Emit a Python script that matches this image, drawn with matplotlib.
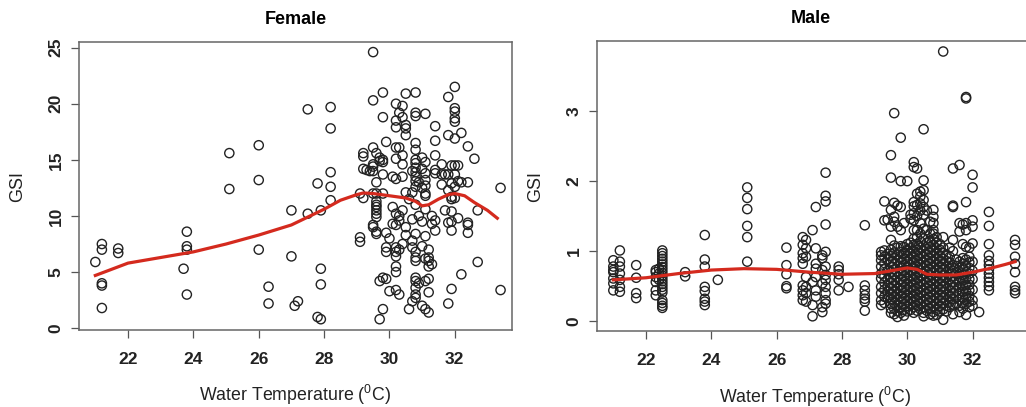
import matplotlib
matplotlib.use("Agg")
from matplotlib import pyplot as plt

# female: sampled water temperatures and the GSI values seen at each one
female_temp = [21.0, 21.2, 21.7, 23.7, 23.8, 25.1, 26.0, 26.3, 27.0, 27.1,
               27.2, 27.5, 27.8, 27.9, 28.2, 29.1, 29.2, 29.3, 29.4, 29.5,
               29.6, 29.7, 29.8, 29.9, 30.0, 30.1, 30.2, 30.3, 30.4, 30.5,
               30.6, 30.7, 30.8, 30.9, 31.0, 31.1, 31.2, 31.3, 31.4, 31.6,
               31.7, 31.8, 31.9, 32.0, 32.1, 32.2, 32.4, 32.6, 32.7, 33.4]
female_gsi = [
    [5.9], [7.5, 7.0, 4.0, 3.8, 1.8], [7.1, 6.7], [5.3], [8.6, 7.3, 7.0, 3.0],
    [15.6, 12.4], [16.3, 13.2, 7.0], [3.7, 2.2], [10.5, 6.4], [2.0],
    [2.4], [19.5, 10.2], [12.9, 1.0], [5.3, 3.9, 0.8, 10.5],
    [19.7, 17.8, 13.9, 12.6, 11.4],
    [12.0, 8.1, 7.7], [15.6, 15.3, 14.2, 11.6], [14.1], [14.0],
    [24.6, 20.3, 16.1, 14.6, 14.4, 14.0, 12.0, 9.2, 9.0],
    [15.6, 13.0, 12.0, 11.3, 11.0, 10.8, 10.5, 10.2, 9.9, 8.6, 8.4],
    [15.2, 14.9, 4.2, 0.8],
    [21.0, 18.8, 15.0, 14.8, 13.7, 12.0, 4.5, 1.7],
    [16.6, 8.5, 7.2, 6.8, 4.4],
    [8.0, 3.3],
    [13.5, 10.8, 9.3],
    [20.0, 18.5, 17.9, 16.1, 15.1, 13.3, 10.2, 9.2, 7.2, 6.8, 6.4, 5.5, 5.0, 3.4],
    [19.2, 16.1, 10.0, 9.6, 7.0, 3.0],
    [19.8, 18.8, 15.4, 14.6, 13.5, 10.5, 7.5],
    [20.9, 18.1, 17.8, 17.2, 12.1, 9.0, 8.3],
    [11.5, 1.7],
    [14.0, 12.1, 9.7, 7.8, 7.2, 2.4],
    [21.0, 19.2, 18.9, 16.5, 15.9, 15.0, 14.7, 14.3, 13.9, 13.5, 13.1, 12.6,
     11.0, 8.4, 6.8, 6.3, 6.0, 4.5, 4.2, 3.6, 3.0, 2.7],
    [13.0, 10.0, 4.0],
    [15.2, 14.2, 12.5, 9.5, 7.3, 2.0],
    [19.1, 14.8, 13.8, 13.2, 12.7, 12.0, 11.8, 10.6, 8.2, 6.2, 4.2, 1.7],
    [7.0, 6.3, 6.0, 5.5, 4.4, 3.2, 1.4],
    [10.0, 9.3, 5.7],
    [18.0, 16.7, 15.4, 14.1, 13.8, 9.6, 8.7],
    [14.6, 13.7, 12.8],
    [13.7, 10.5],
    [20.6, 17.2, 13.7, 12.3, 9.4, 2.2],
    [14.5, 12.9, 11.7, 11.5, 10.4, 9.5, 8.7, 3.5],
    [21.5, 19.6, 19.3, 18.7, 18.4, 16.9, 14.5, 13.7, 12.6, 11.6],
    [14.5, 13.1, 9.8],
    [17.4, 13.0, 4.8],
    [16.2, 13.0, 9.4, 9.2, 8.5],
    [15.1],
    [10.5, 5.9],
    [12.5, 3.4],
]

# male
male_temp = [21.0, 21.2, 21.7, 22.3, 22.4, 22.5, 23.2, 23.8, 24.2, 25.1,
             26.3, 26.8, 26.9, 27.1, 27.2, 27.4, 27.5, 27.9, 28.2, 28.7,
             29.2, 29.3, 29.4, 29.5, 29.6, 29.7, 29.8, 29.9, 30.0, 30.1,
             30.2, 30.3, 30.4, 30.5, 30.6, 30.7, 30.8, 30.9, 31.0, 31.1,
             31.2, 31.3, 31.4, 31.5, 31.6, 31.7, 31.8, 31.9, 32.0, 32.2,
             32.5, 33.3]
male_gsi = [
    [0.87, 0.78, 0.73, 0.70, 0.61, 0.54, 0.44],
    [1.01, 0.85, 0.78, 0.68, 0.59, 0.49, 0.42],
    [0.80, 0.62, 0.40, 0.33],
    [0.73, 0.70, 0.63, 0.56, 0.44, 0.37],
    [0.75, 0.68, 0.59],
    [1.01, 0.97, 0.93, 0.89, 0.85, 0.81, 0.77, 0.73, 0.69, 0.65, 0.61, 0.57,
     0.53, 0.49, 0.45, 0.41, 0.30, 0.26, 0.22, 0.19],
    [0.70, 0.64],
    [1.23, 0.88, 0.78, 0.49, 0.43, 0.32, 0.28, 0.23],
    [0.59],
    [1.91, 1.76, 1.60, 1.36, 1.20, 0.85],
    [1.05, 0.80, 0.67, 0.50, 0.47],
    [1.20, 1.09, 0.97, 0.90, 0.82, 0.51, 0.44, 0.37, 0.30],
    [1.16, 1.04, 0.92, 0.63, 0.49, 0.40, 0.28],
    [1.30, 0.56, 0.23, 0.07],
    [1.63, 1.04, 0.82, 0.75, 0.63, 0.44, 0.35],
    [0.94, 0.90, 0.73, 0.54, 0.20, 0.13],
    [2.12, 1.79, 1.71, 1.38, 0.99, 0.78, 0.66, 0.59, 0.49, 0.40, 0.30, 0.25],
    [0.78, 0.73, 0.67, 0.59, 0.44],
    [0.49],
    [1.37, 0.51, 0.44, 0.37, 0.32, 0.28, 0.15],
    [0.99, 0.94, 0.87, 0.78, 0.68, 0.61, 0.49, 0.40, 0.30, 0.23],
    [1.71, 1.44, 1.01, 0.92, 0.83, 0.74, 0.64, 0.55, 0.45, 0.35, 0.26],
    [1.45, 0.96, 0.88, 0.72, 0.60, 0.50, 0.42, 0.33],
    [2.37, 2.05, 1.59, 1.35, 1.16, 1.02, 0.93, 0.85, 0.77, 0.70, 0.62, 0.55,
     0.47, 0.40, 0.32, 0.25, 0.18, 0.12],
    [2.97, 1.69, 1.49, 1.42, 1.08, 0.98, 0.90, 0.82, 0.74, 0.66, 0.58, 0.50,
     0.42, 0.34, 0.26, 0.18, 0.10],
    [1.65, 1.35, 1.05, 0.95, 0.87, 0.78, 0.70, 0.63, 0.55, 0.46, 0.38, 0.30,
     0.22, 0.14, 0.06],
    [2.62, 2.00, 1.63, 1.30, 1.07, 0.99, 0.91, 0.84, 0.76, 0.68, 0.60, 0.52,
     0.44, 0.36, 0.28, 0.20, 0.12],
    [1.40, 1.06, 0.97, 0.89, 0.80, 0.72, 0.64, 0.56, 0.48, 0.40, 0.32, 0.24,
     0.16, 0.08],
    [2.00, 1.10, 1.02, 0.94, 0.86, 0.78, 0.70, 0.62, 0.54, 0.46, 0.38, 0.30,
     0.22, 0.14],
    [1.52, 1.46, 1.12, 1.04, 0.96, 0.88, 0.80, 0.72, 0.64, 0.56, 0.48, 0.40,
     0.32, 0.24, 0.16],
    [2.27, 2.20, 1.70, 1.64, 1.54, 1.44, 1.30, 1.18, 1.09, 1.00, 0.92, 0.84,
     0.76, 0.68, 0.60, 0.52, 0.44, 0.36, 0.28, 0.20, 0.12],
    [2.18, 1.82, 1.66, 1.50, 1.30, 1.20, 1.10, 1.02, 0.94, 0.86, 0.78, 0.70,
     0.62, 0.54, 0.46, 0.38, 0.30, 0.22, 0.15],
    [1.85, 1.78, 1.68, 1.58, 1.40, 1.25, 1.14, 1.05, 0.97, 0.89, 0.81, 0.73,
     0.65, 0.57, 0.49, 0.41, 0.33, 0.25, 0.17],
    [2.74, 2.01, 1.87, 1.73, 1.63, 1.52, 1.32, 1.18, 1.08, 1.00, 0.92, 0.84,
     0.76, 0.68, 0.60, 0.52, 0.44, 0.36, 0.28, 0.20, 0.12, 0.07],
    [1.58, 1.30, 1.12, 1.03, 0.95, 0.87, 0.79, 0.71, 0.63, 0.55, 0.47, 0.39,
     0.31, 0.23, 0.15],
    [1.42, 1.25, 1.15, 1.06, 0.98, 0.90, 0.82, 0.74, 0.66, 0.58, 0.50, 0.42,
     0.34, 0.26, 0.18, 0.10],
    [1.59, 1.49, 1.40, 1.30, 1.25, 1.17, 1.09, 1.01, 0.93, 0.85, 0.77, 0.69,
     0.61, 0.53, 0.45, 0.37, 0.29, 0.21, 0.13, 0.08],
    [1.20, 1.12, 1.04, 0.96, 0.88, 0.80, 0.72, 0.64, 0.56, 0.48, 0.40, 0.32,
     0.24, 0.16, 0.09],
    [1.10, 1.02, 0.94, 0.86, 0.78, 0.70, 0.62, 0.54, 0.46, 0.38, 0.30, 0.22,
     0.14],
    [3.85, 1.20, 1.05, 0.97, 0.89, 0.81, 0.73, 0.65, 0.57, 0.49, 0.41, 0.33,
     0.25, 0.17, 0.02],
    [0.95, 0.86, 0.78, 0.70, 0.62, 0.54, 0.46, 0.38, 0.30, 0.22, 0.14],
    [1.05, 0.92, 0.84, 0.76, 0.68, 0.60, 0.52, 0.44, 0.36, 0.28, 0.20],
    [2.18, 1.65, 1.63, 1.16, 1.00, 0.80, 0.72, 0.64, 0.56, 0.48, 0.40, 0.32,
     0.24, 0.10],
    [0.88, 0.79, 0.70, 0.61, 0.52, 0.43, 0.34, 0.25],
    [2.23, 1.40, 1.28, 0.85, 0.76, 0.67, 0.58, 0.49, 0.40, 0.31, 0.22, 0.13],
    [1.38, 1.10, 0.90, 0.82, 0.74, 0.66, 0.58, 0.50, 0.42, 0.34, 0.26, 0.18],
    [3.20, 3.18, 1.70, 1.40, 1.30, 1.06, 0.88, 0.79, 0.70, 0.61, 0.52, 0.43,
     0.34, 0.25, 0.09],
    [1.05, 0.92, 0.84, 0.76, 0.68, 0.60, 0.52, 0.44, 0.36, 0.28, 0.20],
    [2.09, 1.91, 1.44, 1.35, 1.11, 0.85, 0.72, 0.60, 0.45, 0.30, 0.22],
    [0.13],
    [1.56, 1.36, 1.10, 0.94, 0.86, 0.80, 0.74, 0.68, 0.62, 0.56, 0.50, 0.44],
    [1.16, 1.09, 0.92, 0.82, 0.70, 0.49, 0.44, 0.40],
]

# smoothed trend lines
female_fit_x = [21.0, 22.0, 23.0, 24.0, 25.0, 26.0, 27.0, 27.5, 28.0, 28.5,
                29.0, 29.2, 29.5, 30.0, 30.5, 30.8, 31.0, 31.2, 31.5, 31.8,
                32.0, 32.3, 32.6, 33.0, 33.3]
female_fit_y = [4.7, 5.8, 6.3, 6.8, 7.5, 8.3, 9.2, 9.9, 10.6, 11.4,
                11.9, 12.05, 12.0, 11.8, 11.6, 11.3, 10.9, 11.0, 11.5, 11.9,
                12.0, 11.8, 11.2, 10.5, 9.8]
male_fit_x = [21.0, 22.0, 23.0, 24.0, 25.0, 26.0, 27.0, 28.0, 29.0, 29.5,
              30.0, 30.3, 30.6, 31.0, 31.5, 32.0, 32.5, 33.0, 33.3]
male_fit_y = [0.59, 0.62, 0.68, 0.73, 0.75, 0.74, 0.70, 0.67, 0.68, 0.72,
              0.76, 0.74, 0.67, 0.66, 0.66, 0.70, 0.75, 0.81, 0.85]


def flatten(temps, groups):
    xs, ys = [], []
    for t, col in zip(temps, groups):
        for v in col:
            xs.append(t)
            ys.append(v)
    return xs, ys


def panel(ax, temps, groups, fit_x, fit_y, title, yticks, ylim, xlim):
    xs, ys = flatten(temps, groups)
    ax.scatter(xs, ys, s=44, facecolors="none", edgecolors="#222222",
               linewidths=1.0, zorder=2)
    ax.plot(fit_x, fit_y, color="#d42a1e", lw=2.3, zorder=3)
    ax.set_xlim(*xlim)
    ax.set_ylim(*ylim)
    ax.set_xticks([22, 24, 26, 28, 30, 32])
    ax.set_yticks(yticks)
    ax.tick_params(direction="out", length=6, width=0.9, color="#555555",
                   labelsize=12.5)
    ax.tick_params(axis="x", pad=10)
    ax.tick_params(axis="y", pad=5)
    for lab in ax.get_xticklabels() + ax.get_yticklabels():
        lab.set_fontweight("bold")
        lab.set_color("#222222")
    for lab in ax.get_yticklabels():
        lab.set_rotation(90)
        lab.set_verticalalignment("center")
    for sp in ax.spines.values():
        sp.set_color("#666666")
        sp.set_linewidth(1.1)
    ax.set_title(title, fontsize=13, fontweight="bold", pad=13)
    ax.set_ylabel("GSI", fontsize=13, color="#222222")
    ax.set_xlabel(r"Water Temperature ($\mathregular{^0}$C)", fontsize=12.8,
                  color="#222222")
    ax.yaxis.set_label_coords(-0.122, 0.5)
    ax.xaxis.set_label_coords(0.5, -0.185)


plt.rcParams["font.family"] = ["Liberation Sans", "DejaVu Sans"]
plt.rcParams["mathtext.fontset"] = "custom"
plt.rcParams["mathtext.rm"] = "Liberation Sans"

fig = plt.figure(figsize=(10.26, 4.07), dpi=100)
W, H = 1026, 407
ax1 = fig.add_axes([79 / W, 1 - 330 / H, 433 / W, 288 / H])
ax2 = fig.add_axes([597 / W, 1 - 331 / H, 436 / W, 290 / H])

panel(ax1, female_temp, female_gsi, female_fit_x, female_fit_y, "Female",
      [0, 5, 10, 15, 20, 25], (-0.16, 25.5), (20.5, 33.75))
panel(ax2, male_temp, male_gsi, male_fit_x, male_fit_y, "Male",
      [0, 1, 2, 3], (-0.14, 4.0), (20.5, 33.85))
ax2.title.set_position((0.49, 1.0))

fig.savefig("out.png", dpi=100)
